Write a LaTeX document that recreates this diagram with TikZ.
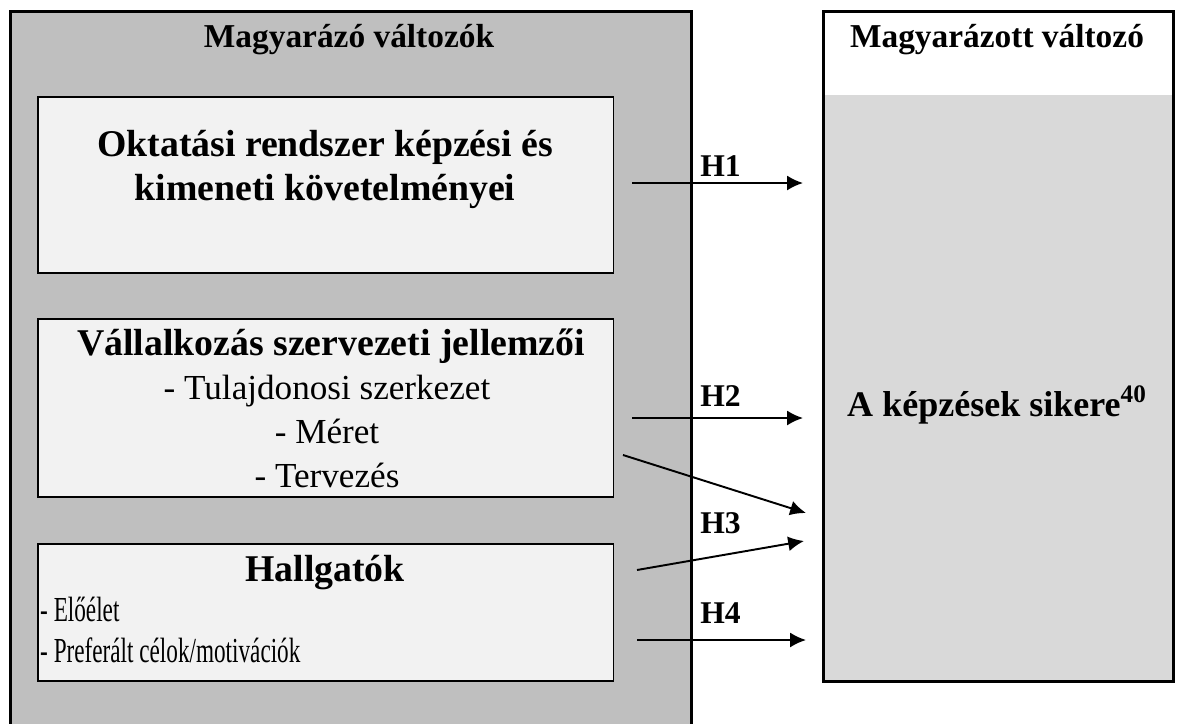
\documentclass[tikz,border=0pt]{standalone}
\usepackage{fontspec}
\setmainfont{Liberation Serif}
\usetikzlibrary{arrows.meta,positioning}

\definecolor{outergray}{HTML}{BFBFBF}
\definecolor{innergray}{HTML}{F2F2F2}
\definecolor{resultgray}{HTML}{D9D9D9}

\begin{document}
\begin{tikzpicture}[x=0.02cm,y=-0.02cm,>={Latex[length=9pt,width=8.5pt]},
      group box/.style={rectangle,draw,line width=1.6pt,inner sep=0pt,anchor=north west},
      var box/.style={rectangle,draw,line width=0.9pt,fill=innergray,inner sep=0pt,
        anchor=north west,minimum width=11.52cm},
      group title/.style={font=\fontsize{19}{23}\selectfont\bfseries,anchor=base,inner sep=0pt},
      var title/.style={font=\fontsize{21.5}{26}\selectfont\bfseries,anchor=base,inner sep=0pt},
      var item/.style={font=\fontsize{20}{24}\selectfont,anchor=base,inner sep=0pt},
      narrow item/.style={var item,anchor=base west,xscale=0.66,transform shape},
      hyp label/.style={font=\fontsize{18}{22}\selectfont\bfseries,anchor=base west,inner sep=0pt},
      hyp/.style={->,line width=1.1pt}]
      \useasboundingbox (0,0) rectangle (1181,724);

      % explanatory variables
      \node[group box,fill=outergray,minimum width=13.62cm,minimum height=14.6cm] (expl) at (9,10) {};
      \node[group title] (expl title) at (349,47) {Magyarázó változók};

      \node[var box,minimum height=3.52cm] (oktatas) at (37,96) {};
      \node[var title] (oktatas 1) at (325,156) {Oktatási rendszer képzési és};
      \node[var title] (oktatas 2) at (325,200) {kimeneti követelményei};

      \node[var box,minimum height=3.56cm] (vallalkozas) at (37,318) {};
      \node[var title] (vallalkozas title) at (331,355) {Vállalkozás szervezeti jellemzői};
      \node[var item] (tulajdon) at (327,399) {- Tulajdonosi szerkezet};
      \node[var item] (meret) at (327,443) {- Méret};
      \node[var item] (tervezes) at (327,487) {- Tervezés};

      \node[var box,minimum height=2.74cm] (hallgatok) at (37,543) {};
      \node[var title] (hallgatok title) at (325,581) {Hallgatók};
      \node[narrow item] (eloelet) at (40,621) {- Előélet};
      \node[narrow item] (celok) at (40,662) {- Preferált célok/motivációk};

      % explained variable
      \fill[resultgray] (822,95) rectangle (1172,680);
      \node[group box,minimum width=7cm,minimum height=13.4cm] (siker) at (822,10) {};
      \node[group title] (siker title) at (997,47) {Magyarázott változó};
      \node[var title,font=\fontsize{20.5}{25}\selectfont\bfseries] (siker text) at (997,416)
        {A képzések sikere\textsuperscript{40}};

      % hypotheses
      \coordinate (h1 from) at (632,183);
      \coordinate (h1 to) at (803,183);
      \coordinate (h2 from) at (632,418);
      \coordinate (h2 to) at (803,418);
      \coordinate (h3a from) at (623,455);
      \coordinate (h3a to) at (806,513);
      \coordinate (h3b from) at (637,570);
      \coordinate (h3b to) at (804,541);
      \coordinate (h4 from) at (637,640);
      \coordinate (h4 to) at (806,640);

      \draw[hyp] (h1 from) -- (h1 to);
      \draw[hyp] (h2 from) -- (h2 to);
      \draw[hyp] (h3a from) -- (h3a to);
      \draw[hyp] (h3b from) -- (h3b to);
      \draw[hyp] (h4 from) -- (h4 to);

      \node[hyp label] (h1) at (700,176) {H1};
      \node[hyp label] (h2) at (700,406) {H2};
      \node[hyp label] (h3) at (700,533) {H3};
      \node[hyp label] (h4) at (700,623) {H4};
\end{tikzpicture}
\end{document}
